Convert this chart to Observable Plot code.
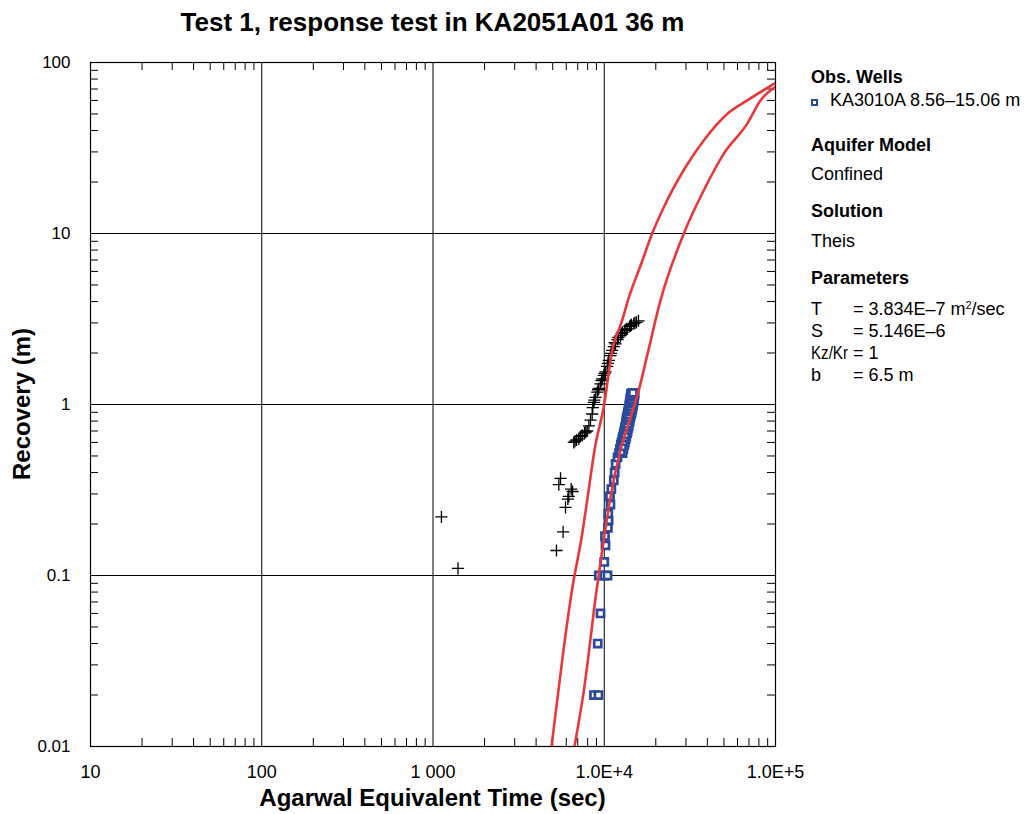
<!DOCTYPE html>
<html>
<head>
<meta charset="utf-8">
<script src="https://cdn.jsdelivr.net/npm/d3@7"></script>
<script src="https://cdn.jsdelivr.net/npm/@observablehq/plot@0.6"></script>
<style>
  body { margin: 0; background: #fff; }
  #wrap { position: relative; width: 1034px; height: 814px; font-family: "Liberation Sans", Arial, sans-serif; }
  #overlay { position: absolute; left: 0; top: 0; pointer-events: none; }
</style>
</head>
<body>
<div id="wrap"></div>
<script>
// ---- Data ----
const titleText = "Test 1, response test in KA2051A01 36 m";
const xLabel = "Agarwal Equivalent Time (sec)";
const yLabel = "Recovery (m)";

const xTicks = [10, 100, 1000, 10000, 100000];
const xTickLabels = ["10", "100", "1 000", "1.0E+4", "1.0E+5"];
const yTicks = [0.01, 0.1, 1, 10, 100];
const yTickLabels = ["0.01", "0.1", "1", "10", "100"];

// Pumping well response (black crosses)
const crossT = [1120, 1400, 5260, 5750, 5940, 6130, 6210, 6410, 6530, 5430, 5555,
  6640, 6890, 7100, 7430, 7670, 7950, 8130, 8310, 8500, 8570, 8690, 8890, 9100, 9300,
  9510, 9730, 9940, 10170, 10400, 10630, 10870, 11120, 11370, 11640, 11950, 12440,
  12780, 13130, 13610, 14040, 14420, 14880, 15420, 15850,
  6750, 7250, 7800, 8750, 9200, 9650, 10050, 10500, 10950, 11500, 12100, 12600, 13400, 14250, 15100];
const crossS = [0.22, 0.11, 0.14, 0.18, 0.25, 0.28, 0.29, 0.32, 0.31, 0.34, 0.37,
  0.60, 0.62, 0.63, 0.66, 0.68, 0.70, 0.75, 0.81, 0.88, 0.96, 1.03, 1.10, 1.18, 1.24,
  1.32, 1.41, 1.48, 1.55, 1.67, 1.81, 1.93, 2.07, 2.18, 2.26, 2.40, 2.53,
  2.64, 2.71, 2.77, 2.86, 2.92, 2.97, 3.02, 3.08,
  0.61, 0.65, 0.69, 1.06, 1.22, 1.38, 1.52, 1.74, 1.99, 2.30, 2.47, 2.60, 2.75, 2.89, 3.00];

// Observation well KA3010A (blue squares)
const obsT = [8710, 9250, 9160, 9510, 9300, 10000, 10450, 10000, 10170, 10100, 10500, 10600,
  10550, 10870, 10800, 11000, 11370, 11500, 11650, 11950,
  12200, 12800, 12350, 12950, 12500, 13100, 12600, 13200, 12750, 13350, 12850, 13450,
  13000, 13600, 13100, 13700, 13200, 13800, 13300, 13900, 13400, 14000, 13450, 14050,
  13500, 14150, 13600, 14250, 13700, 14350, 13750, 14450, 13850, 14550, 13900, 14600,
  14000, 14700, 14050, 14750, 14100, 14800, 14150, 14850, 14200, 14900, 14250, 14950,
  14300, 15000, 14350, 15050,
  12500, 12700, 12900, 13050, 13250, 13400, 13550, 13700, 13750, 13850,
  14000, 14100, 14200, 14350, 14400, 14450, 14550, 14600, 14650, 14700];
const obsS = [0.02, 0.02, 0.04, 0.06, 0.10, 0.10, 0.10, 0.12, 0.15, 0.17, 0.19, 0.21,
  0.23, 0.26, 0.29, 0.32, 0.36, 0.40, 0.45, 0.49,
  0.52, 0.52, 0.55, 0.55, 0.58, 0.58, 0.60, 0.60, 0.63, 0.63, 0.65, 0.65,
  0.68, 0.68, 0.70, 0.70, 0.73, 0.73, 0.75, 0.75, 0.78, 0.78, 0.80, 0.80,
  0.83, 0.83, 0.85, 0.85, 0.88, 0.88, 0.90, 0.90, 0.93, 0.93, 0.95, 0.95,
  0.98, 0.98, 1.00, 1.00, 1.03, 1.03, 1.05, 1.05, 1.08, 1.08, 1.10, 1.10,
  1.13, 1.13, 1.16, 1.16,
  0.53, 0.57, 0.61, 0.64, 0.67, 0.71, 0.74, 0.77, 0.81, 0.84,
  0.87, 0.91, 0.94, 0.97, 1.01, 1.04, 1.07, 1.11, 1.14, 1.17];

// Theis type curves (red)
const curveAT = [4920, 5360, 5810, 6480, 7430, 8050, 8770, 9990, 11120, 12590, 14000, 16300, 19050, 22300, 29800, 38100, 52200, 68400, 100000];
const curveAS = [0.01, 0.02, 0.038, 0.082, 0.175, 0.30, 0.54, 1.0, 2.07, 3.0, 4.3, 6.5, 10, 14.3, 24.4, 35, 50, 60, 76];
const curveBT = [6700, 7590, 9020, 9730, 10790, 12440, 14300, 15900, 17950, 21300, 29150, 39000, 49900, 68400, 81700, 100000];
const curveBS = [0.01, 0.021, 0.082, 0.14, 0.275, 0.54, 0.85, 1.21, 2.0, 4.06, 10, 18.7, 29.3, 43.9, 60, 72];

const legendWell = "KA3010A 8.56–15.06 m";

// ---- Build tables ----
const crosses = crossT.map((t, i) => ({t, s: crossS[i]}));
const obs = obsT.map((t, i) => ({t, s: obsS[i]}));
const curveA = curveAT.map((t, i) => ({t, s: curveAS[i]}));
const curveB = curveBT.map((t, i) => ({t, s: curveBS[i]}));

const xMinor = [];
for (const d of [10, 100, 1000, 10000]) for (let k = 2; k <= 9; k++) xMinor.push(d * k);
const yMinor = [];
for (const d of [0.01, 0.1, 1, 10]) for (let k = 2; k <= 9; k++) yMinor.push(d * k);

const W = 1034, H = 814;
const mL = 90, mR = 259, mT = 62, mB = 68;
const plotW = W - mL - mR, plotH = H - mT - mB;
const tickLen = 8;
const RED = "#e8383b", BLUE = "#2b4a9c";

const chart = Plot.plot({
  width: W, height: H,
  marginLeft: mL, marginRight: mR, marginTop: mT, marginBottom: mB,
  style: {fontFamily: '"Liberation Sans", Arial, sans-serif', fontSize: "18px", color: "#000", background: "#fff"},
  x: {type: "log", domain: [10, 100000]},
  y: {type: "log", domain: [0.01, 100]},
  marks: [
    Plot.ruleX(xTicks, {stroke: "#000", strokeWidth: 1}),
    Plot.ruleY(yTicks, {stroke: "#000", strokeWidth: 1}),
    Plot.ruleX(xMinor, {stroke: "#000", insetTop: plotH - tickLen}),
    Plot.ruleX(xMinor, {stroke: "#000", insetBottom: plotH - tickLen}),
    Plot.ruleY(yMinor, {stroke: "#000", insetRight: plotW - tickLen}),
    Plot.ruleY(yMinor, {stroke: "#000", insetLeft: plotW - tickLen}),
    Plot.frame({stroke: "#000", strokeWidth: 1.2}),
    Plot.axisX({ticks: xTicks, tickFormat: (d) => xTickLabels[xTicks.indexOf(d)], tickSize: 0, tickPadding: 19, label: null, fontSize: 18}),
    Plot.axisY({ticks: yTicks, tickFormat: (d) => yTickLabels[yTicks.indexOf(d)], tickSize: 0, tickPadding: 20, label: null, fontSize: 17}),
    Plot.dot(crosses, {x: "t", y: "s", symbol: "plus", r: 4, stroke: "#000", strokeWidth: 1.3}),
    Plot.dot(obs, {x: "t", y: "s", symbol: "square", r: 4, fill: "#fff", stroke: BLUE, strokeWidth: 2.7}),
    Plot.line(curveA, {x: "t", y: "s", stroke: RED, strokeWidth: 2.6, curve: "monotone-x", clip: true}),
    Plot.line(curveB, {x: "t", y: "s", stroke: RED, strokeWidth: 2.6, curve: "monotone-x", clip: true})
  ]
});
const wrap = document.getElementById("wrap");
wrap.appendChild(chart);

// ---- Overlay texts: title, axis labels, legend ----
const ns = "http://www.w3.org/2000/svg";
const ov = document.createElementNS(ns, "svg");
ov.setAttribute("id", "overlay");
ov.setAttribute("width", W); ov.setAttribute("height", H);
ov.setAttribute("font-family", '"Liberation Sans", Arial, sans-serif');
wrap.appendChild(ov);
function txt(x, y, s, o = {}) {
  const t = document.createElementNS(ns, "text");
  t.setAttribute("x", x); t.setAttribute("y", y);
  t.setAttribute("font-size", o.size || 18);
  if (o.bold) t.setAttribute("font-weight", "bold");
  if (o.anchor) t.setAttribute("text-anchor", o.anchor);
  if (o.transform) t.setAttribute("transform", o.transform);
  if (o.len) { t.setAttribute("textLength", o.len); t.setAttribute("lengthAdjust", "spacingAndGlyphs"); }
  t.setAttribute("fill", "#000");
  if (Array.isArray(s)) {
    for (const part of s) {
      const sp = document.createElementNS(ns, "tspan");
      sp.textContent = part.t;
      if (part.sup) { sp.setAttribute("baseline-shift", "super"); sp.setAttribute("font-size", (o.size || 18) * 0.6); }
      t.appendChild(sp);
    }
  } else t.textContent = s;
  ov.appendChild(t);
  return t;
}
txt(mL + plotW / 2, 31, titleText, {size: 26, bold: true, anchor: "middle"});
txt(mL + plotW / 2, 806, xLabel, {size: 24, bold: true, anchor: "middle"});
txt(0, 0, yLabel, {size: 24, bold: true, anchor: "middle", transform: `translate(30,${mT + plotH / 2}) rotate(-90)`});

const lx = 811;
txt(lx, 83, "Obs. Wells", {size: 18, bold: true});
const sq = document.createElementNS(ns, "rect");
sq.setAttribute("x", 812); sq.setAttribute("y", 100); sq.setAttribute("width", 5); sq.setAttribute("height", 5);
sq.setAttribute("fill", "#fff"); sq.setAttribute("stroke", BLUE); sq.setAttribute("stroke-width", 2);
ov.appendChild(sq);
txt(830, 106, legendWell, {size: 18});
txt(lx, 151, "Aquifer Model", {size: 18, bold: true});
txt(lx, 180, "Confined", {size: 18});
txt(lx, 217, "Solution", {size: 18, bold: true});
txt(lx, 247, "Theis", {size: 18});
txt(lx, 284, "Parameters", {size: 18, bold: true});
const vx = 853;
txt(lx, 315, "T", {size: 18});
txt(vx, 315, [{t: "= 3.834E–7 m"}, {t: "2", sup: true}, {t: "/sec"}], {size: 18});
txt(lx, 337, "S", {size: 18});
txt(vx, 337, "= 5.146E–6", {size: 18});
txt(lx, 359, "Kz/Kr", {size: 18, len: 37});
txt(vx, 359, "= 1", {size: 18});
txt(lx, 381, "b", {size: 18});
txt(vx, 381, "= 6.5  m", {size: 18});
</script>
</body>
</html>
